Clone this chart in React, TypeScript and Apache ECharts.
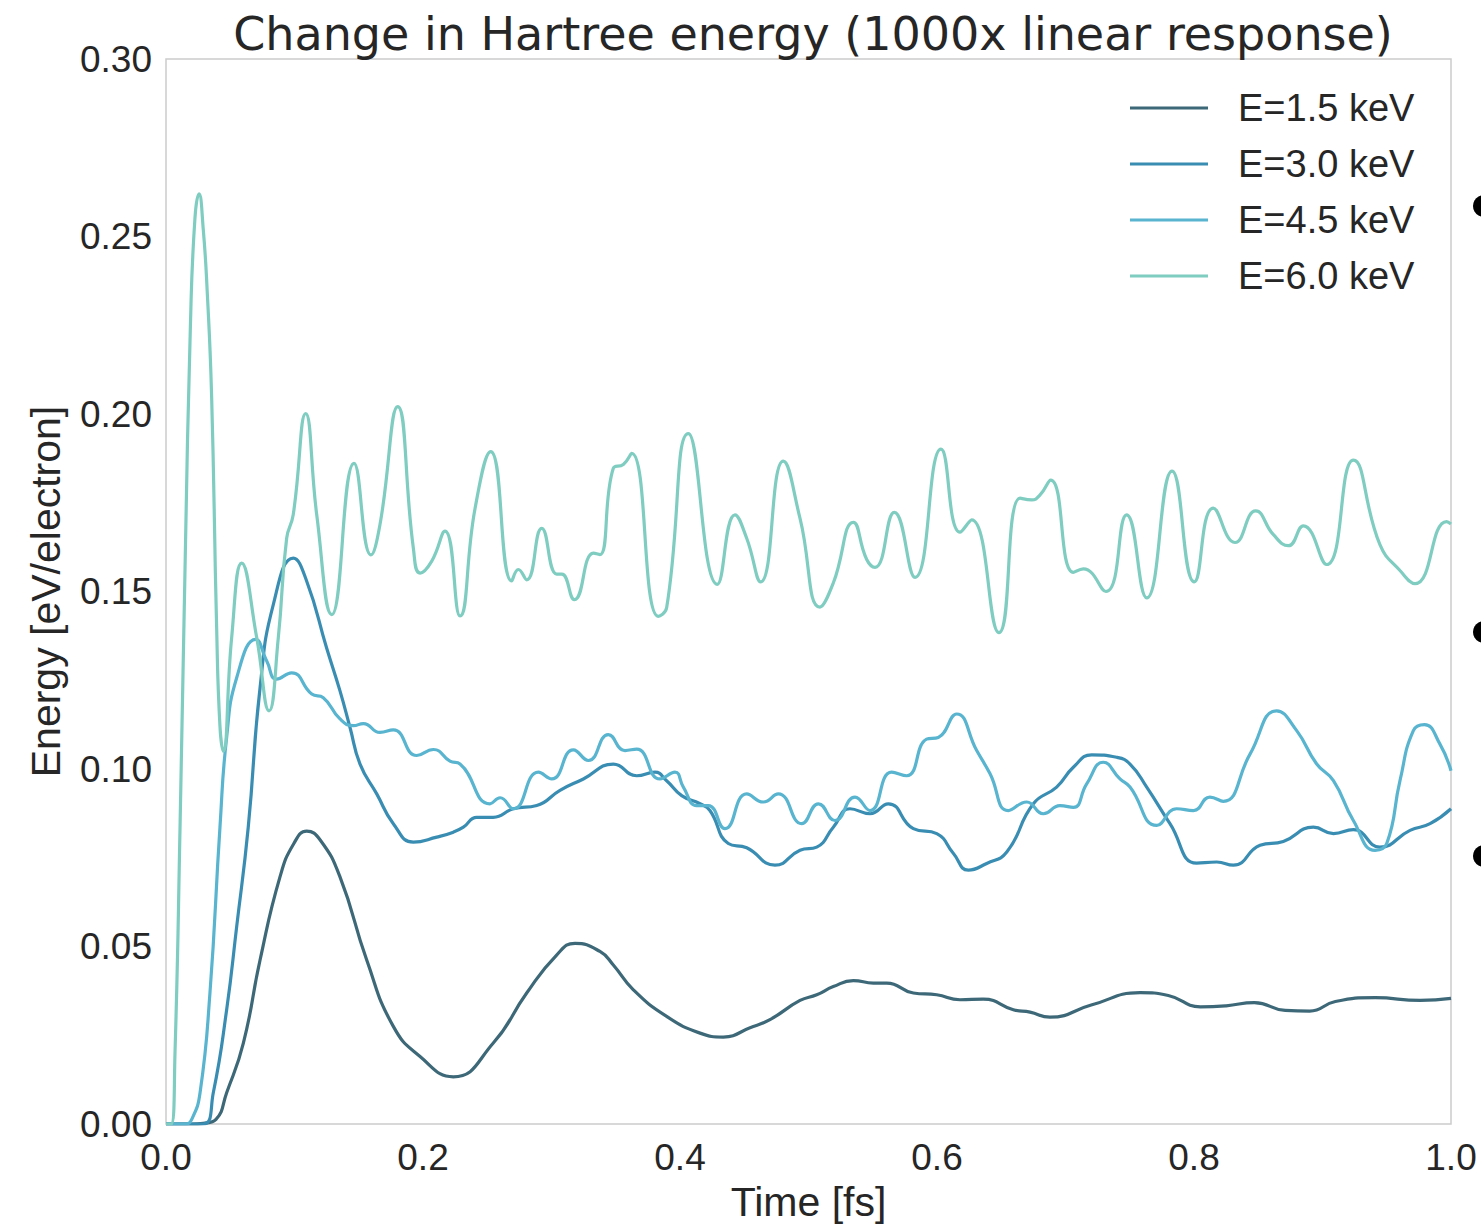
import React, { useEffect, useRef } from "react";
import * as echarts from "echarts";

const title = "Change in Hartree energy (1000x linear response)";
const xName = "Time [fs]";
const yName = "Energy [eV/electron]";
const seriesNames = ["E=1.5 keV", "E=3.0 keV", "E=4.5 keV", "E=6.0 keV"];
const seriesColors = ["#3d6878", "#3a8db2", "#58b4cf", "#7fccc1"];

const t15 = [0, 0.02, 0.029, 0.0389, 0.0472, 0.0602, 0.0732, 0.0887, 0.0995, 0.1095, 0.12, 0.1354, 0.1562, 0.1769, 0.1977, 0.2236, 0.2547, 0.2807, 0.304, 0.3183, 0.3377, 0.3481, 0.3637, 0.3896, 0.4156, 0.4337, 0.4545, 0.47, 0.4934, 0.5064, 0.5193, 0.5349, 0.5505, 0.5609, 0.5816, 0.5998, 0.6179, 0.636, 0.6594, 0.6724, 0.6879, 0.72, 0.758, 0.78, 0.805, 0.825, 0.847, 0.871, 0.89, 0.91, 0.941, 0.976, 1.0];
const v15 = [0, 0, 0.0002, 0.0013, 0.0088, 0.0228, 0.0462, 0.0696, 0.079, 0.0825, 0.08, 0.0696, 0.0462, 0.0275, 0.019, 0.0133, 0.0228, 0.0369, 0.0476, 0.0509, 0.0486, 0.0448, 0.0378, 0.0303, 0.0256, 0.0245, 0.0271, 0.0294, 0.0348, 0.0364, 0.0387, 0.0404, 0.0397, 0.0397, 0.0369, 0.0364, 0.035, 0.0352, 0.0322, 0.0315, 0.0301, 0.0335, 0.037, 0.0362, 0.033, 0.0333, 0.0342, 0.032, 0.0318, 0.0345, 0.0356, 0.0348, 0.0354];

const t30 = [0, 0.029, 0.0368, 0.0472, 0.055, 0.064, 0.0732, 0.0835, 0.0991, 0.1095, 0.125, 0.1354, 0.1432, 0.151, 0.164, 0.1769, 0.1925, 0.2107, 0.2236, 0.2314, 0.2418, 0.2547, 0.2703, 0.2885, 0.3066, 0.3248, 0.3481, 0.3663, 0.3805, 0.3896, 0.4013, 0.4156, 0.4233, 0.4376, 0.4519, 0.4739, 0.4934, 0.5064, 0.5193, 0.5323, 0.5479, 0.5621, 0.5816, 0.5998, 0.6128, 0.6244, 0.6387, 0.6543, 0.675, 0.6931, 0.7061, 0.7204, 0.7398, 0.7502, 0.7632, 0.7813, 0.8021, 0.8177, 0.8306, 0.8514, 0.8695, 0.8929, 0.9085, 0.924, 0.9447, 0.9681, 0.9837, 1.0];
const v30 = [0, 0, 0.0088, 0.0322, 0.0556, 0.0836, 0.1229, 0.1463, 0.1594, 0.1529, 0.1341, 0.122, 0.1117, 0.1014, 0.093, 0.0846, 0.0794, 0.0808, 0.0822, 0.0836, 0.0864, 0.0864, 0.0888, 0.0897, 0.094, 0.0972, 0.1014, 0.0981, 0.0991, 0.0967, 0.0925, 0.0902, 0.0883, 0.079, 0.0778, 0.0729, 0.0771, 0.078, 0.0836, 0.0888, 0.0874, 0.0902, 0.0832, 0.0818, 0.0762, 0.0715, 0.0734, 0.0766, 0.0902, 0.0949, 0.1005, 0.104, 0.1033, 0.1014, 0.0949, 0.0846, 0.0735, 0.0738, 0.0729, 0.0785, 0.0796, 0.0836, 0.0818, 0.0829, 0.078, 0.0827, 0.0846, 0.0888];

const t45 = [0, 0.015, 0.02, 0.0265, 0.0342, 0.042, 0.0472, 0.055, 0.0698, 0.0784, 0.0861, 0.0978, 0.1134, 0.1224, 0.1354, 0.1458, 0.1536, 0.1665, 0.1769, 0.1951, 0.2081, 0.221, 0.2288, 0.2521, 0.26, 0.2703, 0.2898, 0.3002, 0.317, 0.3287, 0.3442, 0.3572, 0.3663, 0.3844, 0.3961, 0.4026, 0.413, 0.422, 0.435, 0.4519, 0.4648, 0.4765, 0.4947, 0.5077, 0.5206, 0.5362, 0.5479, 0.5647, 0.5764, 0.5919, 0.601, 0.6153, 0.6309, 0.6412, 0.6555, 0.6698, 0.6827, 0.6957, 0.7061, 0.7165, 0.7294, 0.7424, 0.7502, 0.771, 0.7865, 0.7995, 0.8124, 0.8228, 0.8436, 0.8643, 0.8799, 0.8955, 0.9085, 0.924, 0.9409, 0.95, 0.9603, 0.9707, 0.9793, 0.9914, 1.0];
const v45 = [0, 0, 0.0013, 0.0088, 0.0369, 0.0836, 0.1089, 0.1257, 0.1365, 0.1304, 0.1253, 0.1271, 0.1211, 0.1201, 0.1141, 0.1122, 0.1128, 0.1103, 0.111, 0.1038, 0.1055, 0.1022, 0.1014, 0.0902, 0.0919, 0.0888, 0.0991, 0.0972, 0.1054, 0.1024, 0.1097, 0.1052, 0.1056, 0.0972, 0.0991, 0.0949, 0.0897, 0.0897, 0.0832, 0.093, 0.0907, 0.093, 0.0846, 0.0902, 0.0855, 0.0921, 0.0883, 0.0991, 0.0981, 0.1084, 0.1089, 0.1155, 0.1052, 0.0987, 0.0883, 0.0907, 0.0874, 0.0897, 0.0892, 0.0958, 0.1019, 0.0972, 0.0949, 0.0841, 0.0888, 0.0883, 0.0921, 0.0909, 0.1042, 0.1164, 0.1108, 0.1014, 0.0967, 0.0855, 0.0771, 0.079, 0.0967, 0.1108, 0.1125, 0.107, 0.0995];

const t60 = [0, 0.004, 0.007, 0.011, 0.015, 0.019, 0.0225, 0.0257, 0.029, 0.032, 0.0355, 0.0394, 0.042, 0.0446, 0.0511, 0.0589, 0.0706, 0.0802, 0.0874, 0.0939, 0.099, 0.1087, 0.1173, 0.129, 0.1463, 0.1595, 0.1665, 0.1803, 0.1925, 0.1977, 0.2067, 0.2171, 0.2288, 0.2405, 0.2527, 0.269, 0.2742, 0.2807, 0.2924, 0.304, 0.308, 0.3178, 0.3326, 0.3377, 0.3481, 0.3559, 0.3624, 0.3831, 0.3896, 0.4065, 0.429, 0.4428, 0.4519, 0.4628, 0.4804, 0.4934, 0.5089, 0.5193, 0.5349, 0.5453, 0.5518, 0.5668, 0.5829, 0.6031, 0.6179, 0.627, 0.6482, 0.6646, 0.6737, 0.6802, 0.6885, 0.7061, 0.7139, 0.7315, 0.7476, 0.7632, 0.7829, 0.8002, 0.815, 0.8319, 0.848, 0.8618, 0.8734, 0.8851, 0.9032, 0.924, 0.9447, 0.9603, 0.972, 0.9966, 1.0];
const v60 = [0, 0, 0.02, 0.085, 0.16, 0.225, 0.255, 0.262, 0.252, 0.235, 0.205, 0.14, 0.112, 0.105, 0.137, 0.158, 0.137, 0.1164, 0.137, 0.165, 0.1716, 0.2001, 0.1716, 0.1435, 0.1861, 0.1603, 0.1688, 0.2021, 0.1622, 0.1552, 0.1585, 0.167, 0.1431, 0.1734, 0.1894, 0.153, 0.1562, 0.1533, 0.1678, 0.1549, 0.1549, 0.1477, 0.1608, 0.1604, 0.1847, 0.1858, 0.1889, 0.143, 0.1454, 0.1945, 0.152, 0.1716, 0.165, 0.1527, 0.1867, 0.1706, 0.1456, 0.1524, 0.1695, 0.159, 0.1568, 0.1723, 0.154, 0.1901, 0.1667, 0.1702, 0.1384, 0.1763, 0.1758, 0.1772, 0.1814, 0.1554, 0.1564, 0.15, 0.1716, 0.1482, 0.1839, 0.1527, 0.1735, 0.1638, 0.1727, 0.166, 0.1629, 0.1685, 0.1576, 0.187, 0.1632, 0.1559, 0.1522, 0.1697, 0.169];

const times = [t15, t30, t45, t60];
const values = [v15, v30, v45, v60];

const TEXT = "#262626";
const SANS = "'Liberation Sans', Arial, sans-serif";

export default function App() {
  const ref = useRef<HTMLDivElement>(null);
  useEffect(() => {
    if (!ref.current) return;
    const chart = echarts.init(ref.current, undefined, { renderer: "svg" });
    const series = seriesNames.map((name, k) => ({
      name,
      type: "line",
      data: times[k].map((t, i) => [t, values[k][i]]),
      symbol: "none",
      smooth: 0.5,
      lineStyle: { color: seriesColors[k], width: 3.2 },
      itemStyle: { color: seriesColors[k] },
      z: 2 + k,
    }));
    chart.setOption({
      animation: false,
      backgroundColor: "#ffffff",
      title: {
        text: title,
        left: 808,
        textAlign: "center",
        top: 6,
        textStyle: { fontFamily: "'DejaVu Sans', sans-serif", fontSize: 46, fontWeight: "normal", color: TEXT },
      },
      legend: {
        orient: "vertical",
        left: 1125,
        top: 84,
        icon: "rect",
        itemWidth: 78,
        itemHeight: 3,
        itemGap: 18,
        textStyle: { fontFamily: SANS, fontSize: 38, color: TEXT, lineHeight: 38, padding: [0, 0, 0, 25] },
        data: seriesNames,
      },
      grid: {
        left: 166,
        right: 30,
        top: 59,
        bottom: 99,
        show: true,
        borderColor: "#cccccc",
        borderWidth: 1.5,
        backgroundColor: "transparent",
      },
      xAxis: {
        type: "value",
        min: 0,
        max: 1,
        interval: 0.2,
        name: xName,
        nameLocation: "middle",
        nameGap: 57,
        nameTextStyle: { fontFamily: SANS, fontSize: 41, color: TEXT },
        axisLine: { show: false },
        axisTick: { show: false },
        splitLine: { show: false },
        axisLabel: { fontFamily: SANS, fontSize: 37, color: TEXT, margin: 15, formatter: (v: number) => v.toFixed(1) },
      },
      yAxis: {
        type: "value",
        min: 0,
        max: 0.3,
        interval: 0.05,
        name: yName,
        nameLocation: "middle",
        nameGap: 100,
        nameTextStyle: { fontFamily: SANS, fontSize: 41, color: TEXT },
        axisLine: { show: false },
        axisTick: { show: false },
        splitLine: { show: false },
        axisLabel: { fontFamily: SANS, fontSize: 37, color: TEXT, margin: 14, formatter: (v: number) => v.toFixed(2) },
      },
      graphic: [
        { type: "circle", shape: { cx: 1484, cy: 206, r: 11 }, style: { fill: "#000" } },
        { type: "circle", shape: { cx: 1484, cy: 632, r: 11 }, style: { fill: "#000" } },
        { type: "circle", shape: { cx: 1484, cy: 856, r: 11 }, style: { fill: "#000" } },
      ],
      series,
    });
    return () => chart.dispose();
  }, []);
  return <div ref={ref} style={{ position: "absolute", left: 0, top: 0, width: 1481, height: 1227 }} />;
}
